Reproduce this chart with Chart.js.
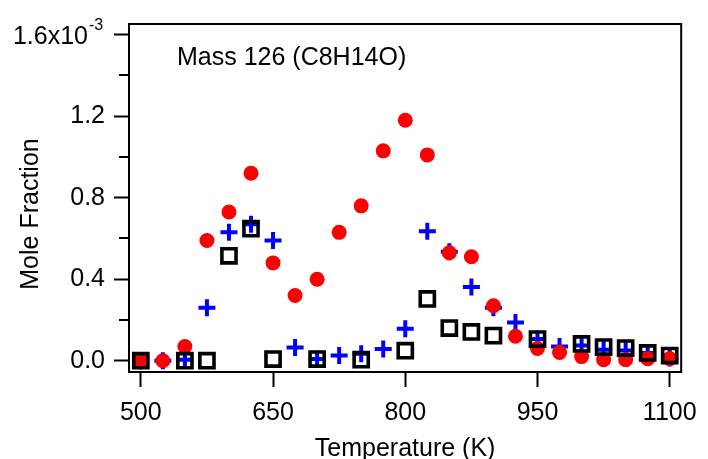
<!DOCTYPE html>
<html>
<head>
<meta charset="utf-8">
<script src="https://cdn.jsdelivr.net/npm/chart.js@4/dist/chart.umd.min.js"></script>
<style>
  body { margin: 0; background: #fff; }
  #wrap { width: 708px; height: 459px; }
</style>
</head>
<body>
<div id="wrap"><canvas id="myChart"></canvas></div>
<script>
// Temperature (K)
const temperatures = [500, 525, 550, 575, 600, 625, 650, 675, 700, 725, 750, 775, 800,
                      825, 850, 875, 900, 925, 950, 975, 1000, 1025, 1050, 1075, 1100];
// Mole fraction, in units of 1e-3
const redCircles = [0, 0, 0.07, 0.59, 0.73, 0.92, 0.48, 0.32, 0.40, 0.63, 0.76, 1.03, 1.18,
                    1.01, 0.53, 0.51, 0.27, 0.12, 0.06, 0.04, 0.02, 0.005, 0.005, 0.01, 0.01];
const blueCrosses = [0, 0, 0.005, 0.26, 0.63, 0.67, 0.59, 0.065, 0.008, 0.026, 0.034, 0.057, 0.157,
                     0.635, 0.535, 0.362, 0.26, 0.188, 0.106, 0.07, 0.074, 0.054, 0.05, 0.038, 0.013];
const blackSquares = [0, null, 0, 0, 0.515, 0.648, 0.008, null, 0.008, null, 0.005, null, 0.049,
                      0.303, 0.16, 0.141, 0.123, null, 0.106, null, 0.082, 0.067, 0.062, 0.038, 0.025];

const xTicks = [500, 650, 800, 950, 1100];
const yTicks = [0, 0.4, 0.8, 1.2, 1.6];
const yMinorTicks = [0.2, 0.6, 1.0, 1.4];

const FONT = "'Liberation Sans', Arial, sans-serif";

function toPoints(values) {
  return temperatures.map((t, i) => ({ x: t, y: values[i] }));
}

// frame, minor ticks, titles and the 1.6x10^-3 label
const extras = {
  id: 'extras',
  afterDraw(chart) {
    const ctx = chart.ctx;
    const a = chart.chartArea;
    const ys = chart.scales.y;
    ctx.save();
    ctx.strokeStyle = '#000';
    ctx.lineWidth = 2;
    ctx.strokeRect(a.left, a.top, a.right - a.left, a.bottom - a.top);

    ctx.beginPath();
    yMinorTicks.forEach(v => {
      const py = Math.round(ys.getPixelForValue(v));
      ctx.moveTo(a.left - 10, py);
      ctx.lineTo(a.left, py);
    });
    ctx.stroke();

    ctx.fillStyle = '#000';
    // top tick label with exponent
    const topY = ys.getPixelForValue(1.6);
    ctx.font = '25px ' + FONT;
    ctx.textAlign = 'right';
    ctx.textBaseline = 'middle';
    ctx.fillText('1.6x10', 88, topY + 2);
    ctx.font = '16px ' + FONT;
    ctx.textAlign = 'left';
    ctx.fillText('-3', 89, topY - 9);

    // annotation
    ctx.font = '25px ' + FONT;
    ctx.textBaseline = 'alphabetic';
    ctx.fillText('Mass 126 (C8H14O)', 177, 65);

    // x title
    ctx.textAlign = 'center';
    ctx.fillText('Temperature (K)', (a.left + a.right) / 2, 456);

    // y title
    ctx.translate(38, 214);
    ctx.rotate(-Math.PI / 2);
    ctx.fillText('Mole Fraction', 0, 0);
    ctx.restore();
  }
};

const ctx = document.getElementById('myChart').getContext('2d');

const myChart = new Chart(ctx, {
  type: 'scatter',
  data: {
    datasets: [
      {
        label: 'squares',
        data: toPoints(blackSquares),
        pointStyle: 'rect',
        pointRadius: 10,
        pointBorderWidth: 3.6,
        borderColor: '#000',
        backgroundColor: 'rgba(0,0,0,0)',
        order: 0
      },
      {
        label: 'circles',
        data: toPoints(redCircles),
        pointStyle: 'circle',
        pointRadius: 7.5,
        pointBorderWidth: 0,
        borderColor: '#ff0000',
        backgroundColor: '#ff0000',
        order: 1
      },
      {
        label: 'crosses',
        data: toPoints(blueCrosses),
        pointStyle: 'cross',
        pointRadius: 8.5,
        pointBorderWidth: 4,
        borderColor: '#0000ff',
        backgroundColor: '#0000ff',
        order: 2
      }
    ]
  },
  options: {
    responsive: true,
    maintainAspectRatio: false,
    animation: false,
    layout: { padding: { top: 24, right: 19, left: 0, bottom: 0 } },
    plugins: {
      legend: { display: false },
      tooltip: { enabled: false }
    },
    scales: {
      x: {
        type: 'linear',
        min: 486.6,
        max: 1113,
        afterBuildTicks: s => { s.ticks = xTicks.map(v => ({ value: v })); },
        afterFit: s => { s.height = 87; },
        grid: { drawOnChartArea: false, tickLength: 15, tickWidth: 2, tickColor: '#000' },
        border: { display: true, color: '#000', width: 2 },
        ticks: {
          color: '#000',
          font: { family: FONT, size: 25 },
          padding: 11,
          maxRotation: 0,
          callback: v => String(v)
        }
      },
      y: {
        type: 'linear',
        min: -0.0555,
        max: 1.6525,
        afterBuildTicks: s => { s.ticks = yTicks.map(v => ({ value: v })); },
        afterFit: s => { s.width = 129; },
        grid: { drawOnChartArea: false, tickLength: 15, tickWidth: 2, tickColor: '#000' },
        border: { display: true, color: '#000', width: 2 },
        ticks: {
          color: '#000',
          font: { family: FONT, size: 25 },
          padding: 9,
          callback: v => (v === 1.6 ? '' : v.toFixed(1))
        }
      }
    }
  },
  plugins: [extras]
});
</script>
</body>
</html>
